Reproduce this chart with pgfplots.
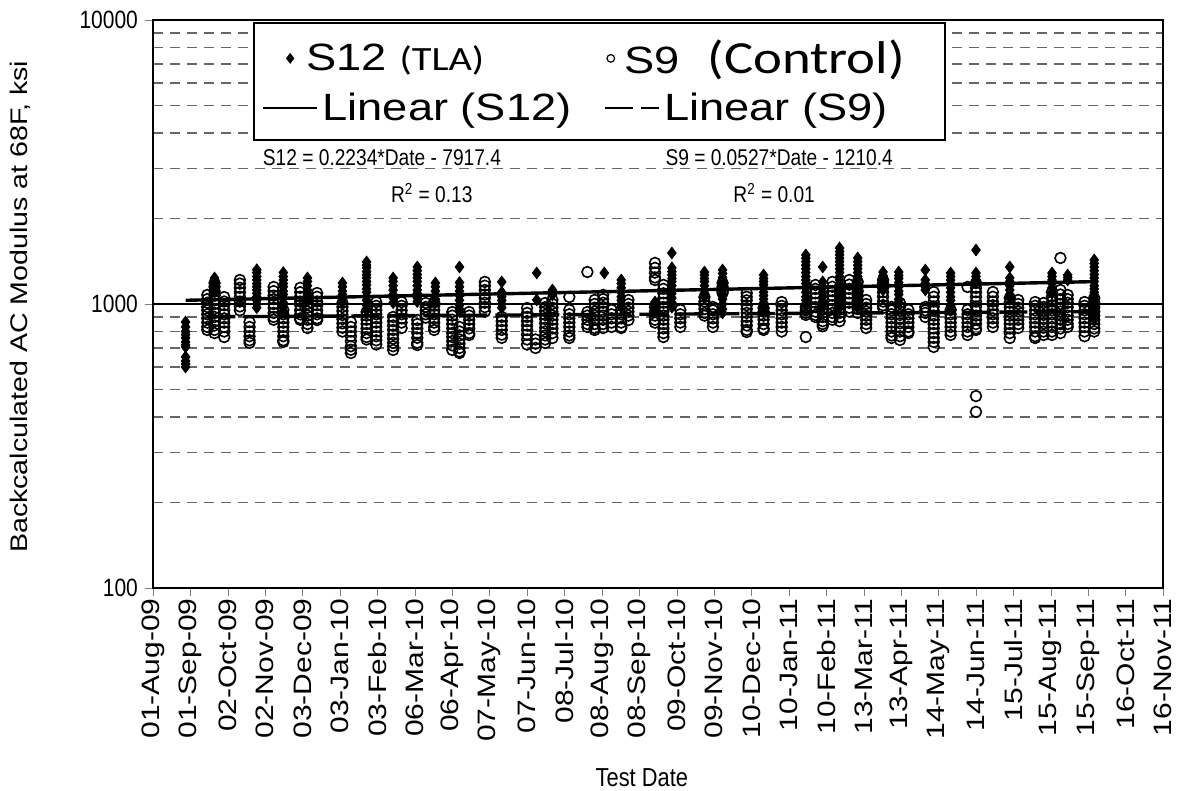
\documentclass[border=0pt]{standalone}
\usepackage{pgfplots}
\pgfplotsset{compat=1.18}
\usepackage{fontspec}
\setmainfont[FakeStretch=0.84]{Liberation Sans}
\newfontfamily\widefont[FakeStretch=1.19]{Liberation Sans}
\newfontfamily\carlwide[FakeStretch=1.19]{Carlito}
\begin{document}
\begin{tikzpicture}
\begin{axis}[
  scale only axis, width=505pt, height=284pt,
  xmin=40026, xmax=40863, ymode=log, ymin=100, ymax=10000,
  scaled x ticks=false,
  xtick={40026,40057,40088,40119,40150,40181,40212,40243,40274,40305,40336,40367,40398,40429,40460,40491,40522,40553,40584,40615,40646,40677,40708,40739,40770,40801,40832,40863},
  xticklabels={01-Aug-09,01-Sep-09,02-Oct-09,02-Nov-09,03-Dec-09,03-Jan-10,03-Feb-10,06-Mar-10,06-Apr-10,07-May-10,07-Jun-10,08-Jul-10,08-Aug-10,08-Sep-10,09-Oct-10,09-Nov-10,10-Dec-10,10-Jan-11,10-Feb-11,13-Mar-11,13-Apr-11,14-May-11,14-Jun-11,15-Jul-11,15-Aug-11,15-Sep-11,16-Oct-11,16-Nov-11},
  xticklabel style={rotate=90, anchor=east, inner sep=1pt, font=\widefont\fontsize{12.6}{14}\selectfont},
  ytick={100,1000,10000}, yticklabels={100,1000,10000},
  yticklabel style={font=\fontsize{12.5}{14}\selectfont},
  tick align=outside, tick pos=left, major tick length=4pt, minor tick length=0pt,
  ymajorgrids, yminorgrids,
  major grid style={black, line width=0.6pt},
  minor grid style={black!60, dash pattern=on 5pt off 3.5pt, line width=0.6pt},
  axis line style={black, line width=0.9pt},
  xlabel={Test Date},
  xlabel style={font=\fontsize{13}{15}\selectfont, at={(axis description cs:0.484,-0.3345)}, anchor=center},
  ylabel={Backcalculated AC Modulus at 68F, ksi},
  ylabel style={font=\widefont\fontsize{12}{14}\selectfont, at={(axis description cs:-0.1317,0.495)}, anchor=center},
  legend columns=2,
  legend style={at={(rel axis cs:0.099,0.996)}, anchor=north west, draw=black, line width=0.8pt,
    font=\widefont\fontsize{19}{21}\selectfont, inner xsep=4pt, inner ysep=6.5pt, row sep=4pt,
    /tikz/column 2/.style={column sep=14pt}},
  legend cell align=left,
]
% S12 (TLA)
\addplot[only marks, mark=diamond*, mark size=2.9pt, black, mark options={line width=0.4pt},
  legend image code/.code={\draw[black, fill=black, line width=0.4pt] (13.5pt,2.4pt) -- (15.3pt,0pt) -- (13.5pt,-2.4pt) -- (11.7pt,0pt) -- cycle;}]
coordinates {
(40053,864)(40053,830)(40053,800)(40053,780)(40053,760)(40053,735)(40053,717)(40053,706)(40053,651)(40053,630)(40053,615)(40053,600)
(40077,1235)(40077,1200)(40077,1167)(40077,1130)(40077,1100)
(40112,1320)(40112,1290)(40112,1250)(40112,1215)(40112,1180)(40112,1150)(40112,1120)(40112,1090)(40112,1060)(40112,1030)(40112,1000)(40112,970)
(40134,1290)(40134,1250)(40134,1215)(40134,1180)(40134,1150)(40134,1110)(40134,1080)(40134,1050)(40134,1010)(40134,975)(40134,940)
(40154,1235)(40154,1200)(40154,1160)(40154,1120)(40154,1080)(40154,1050)(40154,1030)
(40183,1186)(40183,1150)(40183,1110)(40183,1080)(40183,1040)(40183,1010)
(40203,1406)(40203,1370)(40203,1340)(40203,1300)(40203,1265)(40203,1235)(40203,1200)(40203,1167)(40203,1130)(40203,1100)(40203,1060)(40203,1030)(40203,990)(40203,950)
(40225,1235)(40225,1200)(40225,1160)(40225,1120)(40225,1080)(40225,1050)(40225,1010)
(40245,1350)(40245,1310)(40245,1270)(40245,1235)(40245,1200)(40245,1160)(40245,1120)(40245,1090)(40245,1050)(40245,1020)
(40260,1186)(40260,1150)(40260,1110)(40260,1070)(40260,1040)(40260,1010)
(40280,1350)(40280,1190)(40280,1150)(40280,1110)(40280,1070)(40280,1030)(40280,990)(40280,960)(40280,940)
(40315,1196)(40315,1100)(40315,1060)(40315,1030)(40315,1000)(40315,970)
(40344,1286)(40344,1033)
(40357,1120)(40357,1090)(40357,1076)
(40400,1286)
(40414,1215)(40414,1180)(40414,1140)(40414,1100)(40414,1060)(40414,1030)(40414,1000)(40414,975)
(40442,1016)(40442,990)(40442,970)(40442,950)
(40456,1512)(40456,1340)(40456,1300)(40456,1265)(40456,1230)(40456,1200)(40456,1160)(40456,1120)(40456,1090)(40456,1050)(40456,1010)(40456,975)
(40483,1296)(40483,1265)(40483,1230)(40483,1200)(40483,1160)(40483,1120)(40483,1090)(40483,1060)
(40498,1317)(40498,1280)(40498,1240)(40498,1200)(40498,1160)(40498,1120)(40498,1080)(40498,1040)(40498,1000)(40498,960)(40498,930)
(40532,1265)(40532,1230)(40532,1200)(40532,1170)(40532,1140)(40532,1100)(40532,1070)(40532,1040)(40532,1010)(40532,975)(40532,940)
(40567,1488)(40567,1450)(40567,1410)(40567,1370)(40567,1330)(40567,1290)(40567,1250)(40567,1215)(40567,1180)(40567,1140)(40567,1100)(40567,1060)(40567,1030)(40567,990)
(40581,1350)(40581,1196)(40581,1150)(40581,1100)(40581,1060)(40581,1020)(40581,976)
(40595,1575)(40595,1530)(40595,1490)(40595,1450)(40595,1410)(40595,1370)(40595,1330)(40595,1290)(40595,1250)(40595,1215)(40595,1180)(40595,1140)(40595,1100)(40595,1060)(40595,1020)(40595,976)
(40610,1452)(40610,1410)(40610,1370)(40610,1330)(40610,1290)(40610,1250)(40610,1215)(40610,1180)(40610,1140)(40610,1100)(40610,1060)(40610,1020)(40610,976)
(40631,1296)(40631,1260)(40631,1230)(40631,1200)(40631,1160)(40631,1120)
(40644,1296)(40644,1260)(40644,1230)(40644,1190)(40644,1150)(40644,1110)(40644,1080)(40644,1040)(40644,1010)
(40666,1317)(40666,1215)(40666,1180)(40666,1150)(40666,1120)
(40687,1286)(40687,1250)(40687,1215)(40687,1180)(40687,1140)(40687,1100)(40687,1060)(40687,1030)(40687,990)(40687,953)
(40708,1549)(40708,1286)(40708,1250)(40708,1215)(40708,1186)
(40736,1350)(40736,1235)(40736,1200)(40736,1160)(40736,1120)(40736,1080)(40736,1050)
(40771,1286)(40771,1250)(40771,1215)(40771,1180)(40771,1140)(40771,1100)(40771,1093)
(40784,1265)(40784,1240)(40784,1215)
(40806,1429)(40806,1390)(40806,1350)(40806,1310)(40806,1270)(40806,1235)(40806,1200)(40806,1160)(40806,1130)(40806,1100)(40806,1060)(40806,1030)(40806,1000)(40806,970)(40806,940)(40806,910)(40806,880)
};
\addlegendentry{\hspace*{-8pt}S12 {\carlwide\fontsize{17}{18}\selectfont(TLA)}}
% S9 (Control)
\addplot[only marks, mark=o, mark size=2.7pt, black, mark options={fill=white, line width=0.8pt},
  legend image code/.code={\draw[black, fill=white, line width=0.6pt] (3pt,0pt) circle (1.9pt);}]
coordinates {
(40071,1076)(40071,1040)(40071,1010)(40071,976)(40071,950)(40071,920)(40071,890)(40071,860)(40071,830)(40071,810)
(40077,1186)(40077,1150)(40077,1110)(40077,1070)(40077,1030)(40077,1000)(40077,960)(40077,930)(40077,900)(40077,870)(40077,840)(40077,810)(40077,790)
(40085,1058)(40085,1020)(40085,990)(40085,950)(40085,920)(40085,890)(40085,860)(40085,830)(40085,800)(40085,765)
(40098,1215)(40098,1180)(40098,1140)(40098,1100)(40098,1060)(40098,1020)(40098,980)(40098,950)
(40106,864)(40106,830)(40106,800)(40106,770)(40106,745)(40106,730)
(40126,1148)(40126,1110)(40126,1070)(40126,1040)(40126,1000)(40126,970)(40126,930)(40126,900)(40126,880)
(40134,953)(40134,920)(40134,890)(40134,860)(40134,830)(40134,800)(40134,770)(40134,745)(40134,735)
(40148,1140)(40148,1100)(40148,1060)(40148,1020)(40148,990)(40148,950)(40148,920)(40148,890)(40148,880)
(40154,1033)(40154,1000)(40154,970)(40154,940)(40154,910)(40154,880)(40154,850)(40154,823)
(40162,1093)(40162,1060)(40162,1020)(40162,990)(40162,950)(40162,920)(40162,890)(40162,878)
(40183,1008)(40183,976)(40183,945)(40183,915)(40183,885)(40183,855)(40183,825)(40183,800)
(40190,864)(40190,830)(40190,800)(40190,770)(40190,740)(40190,710)(40190,690)(40190,672)
(40203,937)(40203,910)(40203,880)(40203,850)(40203,820)(40203,790)(40203,765)(40203,750)
(40211,1016)(40211,985)(40211,950)(40211,920)(40211,890)(40211,860)(40211,830)(40211,800)(40211,770)(40211,745)(40211,720)
(40225,900)(40225,870)(40225,840)(40225,810)(40225,780)(40225,755)(40225,730)(40225,710)(40225,689)
(40232,1016)(40232,985)(40232,950)(40232,920)(40232,890)(40232,860)(40232,823)
(40245,878)(40245,850)(40245,820)(40245,790)(40245,760)(40245,730)(40245,717)
(40252,1008)(40252,976)(40252,950)(40252,920)(40252,895)
(40259,1016)(40259,985)(40259,950)(40259,920)(40259,890)(40259,860)(40259,830)(40259,810)
(40274,937)(40274,910)(40274,880)(40274,850)(40274,820)(40274,790)(40274,765)(40274,740)(40274,715)(40274,689)
(40280,830)(40280,800)(40280,775)(40280,750)(40280,725)(40280,700)(40280,680)(40280,672)
(40288,937)(40288,910)(40288,880)(40288,850)(40288,820)(40288,790)(40288,778)
(40301,1196)(40301,1160)(40301,1120)(40301,1080)(40301,1050)(40301,1010)(40301,975)(40301,940)
(40315,900)(40315,870)(40315,840)(40315,810)(40315,780)(40315,760)
(40336,968)(40336,930)(40336,900)(40336,870)(40336,840)(40336,810)(40336,780)(40336,750)(40336,720)
(40343,750)(40343,725)(40343,700)
(40351,1008)(40351,975)(40351,945)(40351,915)(40351,885)(40351,855)(40351,825)(40351,800)(40351,775)(40351,750)(40351,729)
(40357,1033)(40357,1000)(40357,970)(40357,940)(40357,910)(40357,880)(40357,850)(40357,820)(40357,790)(40357,759)
(40371,1058)(40371,953)(40371,920)(40371,890)(40371,860)(40371,830)(40371,800)(40371,775)(40371,759)
(40386,1296)(40386,937)(40386,910)(40386,880)(40386,850)(40386,830)
(40392,1033)(40392,1000)(40392,970)(40392,940)(40392,910)(40392,880)(40392,850)(40392,823)(40392,810)
(40399,1076)(40399,1040)(40399,1010)(40399,975)(40399,940)(40399,910)(40399,880)(40399,850)(40399,823)
(40406,953)(40406,920)(40406,890)(40406,860)(40406,830)
(40414,953)(40414,920)(40414,890)(40414,860)(40414,830)(40414,823)
(40420,1033)(40420,1000)(40420,970)(40420,940)(40420,910)(40420,878)
(40442,1395)(40442,1340)(40442,1290)(40442,1240)(40442,1215)(40442,975)(40442,940)(40442,910)(40442,880)(40442,860)
(40449,1167)(40449,1130)(40449,1090)(40449,1050)(40449,1010)(40449,975)(40449,940)(40449,910)(40449,880)(40449,850)(40449,820)(40449,790)(40449,765)
(40463,953)(40463,920)(40463,890)(40463,860)(40463,830)
(40483,1058)(40483,1020)(40483,990)(40483,960)(40483,930)(40483,910)
(40490,976)(40490,950)(40490,920)(40490,890)(40490,860)(40490,830)
(40498,1186)(40498,1150)(40498,1110)(40498,1093)
(40518,1093)(40518,1060)(40518,1030)(40518,990)(40518,960)(40518,930)(40518,900)(40518,870)(40518,840)(40518,810)(40518,797)
(40532,968)(40532,940)(40532,910)(40532,880)(40532,850)(40532,820)(40532,810)
(40547,1016)(40547,985)(40547,950)(40547,920)(40547,890)(40547,860)(40547,830)(40547,800)
(40567,976)(40567,950)(40567,930)(40567,915)(40567,765)
(40575,1167)(40575,1130)(40575,1090)(40575,1050)(40575,1010)(40575,975)(40575,940)(40575,915)(40575,900)
(40581,992)(40581,960)(40581,930)(40581,900)(40581,870)(40581,850)(40581,835)
(40589,1196)(40589,1150)(40589,1110)(40589,1070)(40589,1030)(40589,990)(40589,960)(40589,930)(40589,900)(40589,880)
(40595,1148)(40595,1110)(40595,1070)(40595,1030)(40595,990)(40595,960)(40595,930)(40595,900)(40595,870)
(40603,1215)(40603,1170)(40603,1130)(40603,1090)(40603,1050)(40603,1010)(40603,970)(40603,940)
(40610,1196)(40610,1150)(40610,1110)(40610,1070)(40610,1030)(40610,990)(40610,960)(40610,930)
(40617,1033)(40617,1000)(40617,970)(40617,940)(40617,910)(40617,880)(40617,850)(40617,823)
(40631,1215)(40631,1180)(40631,1140)(40631,1100)(40631,1060)(40631,1020)(40631,990)(40631,968)
(40638,976)(40638,950)(40638,920)(40638,890)(40638,860)(40638,830)(40638,800)(40638,775)(40638,759)
(40645,1008)(40645,976)(40645,945)(40645,915)(40645,885)(40645,855)(40645,825)(40645,800)(40645,770)(40645,747)
(40652,953)(40652,920)(40652,890)(40652,860)(40652,830)(40652,800)(40652,790)
(40666,976)(40666,950)(40666,930)(40666,900)
(40673,1102)(40673,1060)(40673,1020)(40673,980)(40673,945)(40673,910)(40673,880)(40673,850)(40673,820)(40673,790)(40673,760)(40673,735)(40673,706)
(40687,953)(40687,920)(40687,890)(40687,860)(40687,830)(40687,800)(40687,778)
(40701,1148)(40701,953)(40701,920)(40701,890)(40701,860)(40701,830)(40701,800)(40701,778)
(40708,1186)(40708,1140)(40708,1100)(40708,1060)(40708,1020)(40708,980)(40708,945)(40708,910)(40708,880)(40708,850)(40708,820)(40708,810)(40708,474)(40708,417)
(40722,1102)(40722,1060)(40722,1020)(40722,990)(40722,950)(40722,920)(40722,890)(40722,860)(40722,830)
(40736,1050)(40736,1010)(40736,975)(40736,940)(40736,910)(40736,880)(40736,850)(40736,820)(40736,790)(40736,759)
(40743,1033)(40743,1000)(40743,970)(40743,940)(40743,910)(40743,880)(40743,850)(40743,823)
(40757,1016)(40757,985)(40757,950)(40757,920)(40757,890)(40757,860)(40757,830)(40757,800)(40757,770)(40757,759)
(40764,1008)(40764,976)(40764,945)(40764,915)(40764,885)(40764,855)(40764,825)(40764,800)(40764,778)
(40771,1102)(40771,1060)(40771,1020)(40771,990)(40771,950)(40771,920)(40771,890)(40771,860)(40771,830)(40771,800)(40771,778)
(40778,1452)(40778,1120)(40778,1080)(40778,1040)(40778,1000)(40778,970)(40778,940)(40778,910)(40778,880)(40778,850)(40778,820)(40778,790)
(40784,1076)(40784,1040)(40784,1010)(40784,975)(40784,940)(40784,910)(40784,880)(40784,850)(40784,830)
(40798,1016)(40798,985)(40798,950)(40798,920)(40798,890)(40798,860)(40798,830)(40798,800)(40798,770)
(40806,1050)(40806,1010)(40806,975)(40806,940)(40806,910)(40806,880)(40806,850)(40806,820)(40806,800)
};
\addlegendentry{\hspace*{-20pt}S9\hspace{14pt}{\carlwide\fontsize{23}{24}\selectfont (Control)}\rule{14pt}{0pt}}
% trend lines
\addplot[black, line width=1.7pt, no marks,
  legend image code/.code={\draw[black, line width=1.4pt] (0pt,0pt) -- (27pt,0pt);}]
coordinates {(40053,1030.4) (40806,1198.7)};
\addlegendentry{Linear (S12)}
\addplot[black, line width=1.7pt, no marks, dash pattern=on 14pt off 4pt,
  legend image code/.code={\draw[black, line width=1.4pt, dash pattern=on 14pt off 4pt] (0pt,0pt) -- (27pt,0pt);}]
coordinates {(40071,901.3) (40806,940.1)};
\addlegendentry{Linear (S9)}
\node[font=\fontsize{11.4}{13}\selectfont, anchor=center] at (rel axis cs:0.2267,0.757) {S12 = 0.2234*Date - 7917.4};
\node[font=\fontsize{11.4}{13}\selectfont, anchor=center] at (rel axis cs:0.276,0.6954) {R\textsuperscript{2} = 0.13};
\node[font=\fontsize{11.4}{13}\selectfont, anchor=center] at (rel axis cs:0.620,0.757) {S9 = 0.0527*Date - 1210.4};
\node[font=\fontsize{11.4}{13}\selectfont, anchor=center] at (rel axis cs:0.615,0.6954) {R\textsuperscript{2} = 0.01};
\end{axis}
\pgfresetboundingbox
\path (current axis.south west) ++(-76.5pt,-101.5pt) rectangle ++(589pt,395.5pt);
\end{tikzpicture}
\end{document}
